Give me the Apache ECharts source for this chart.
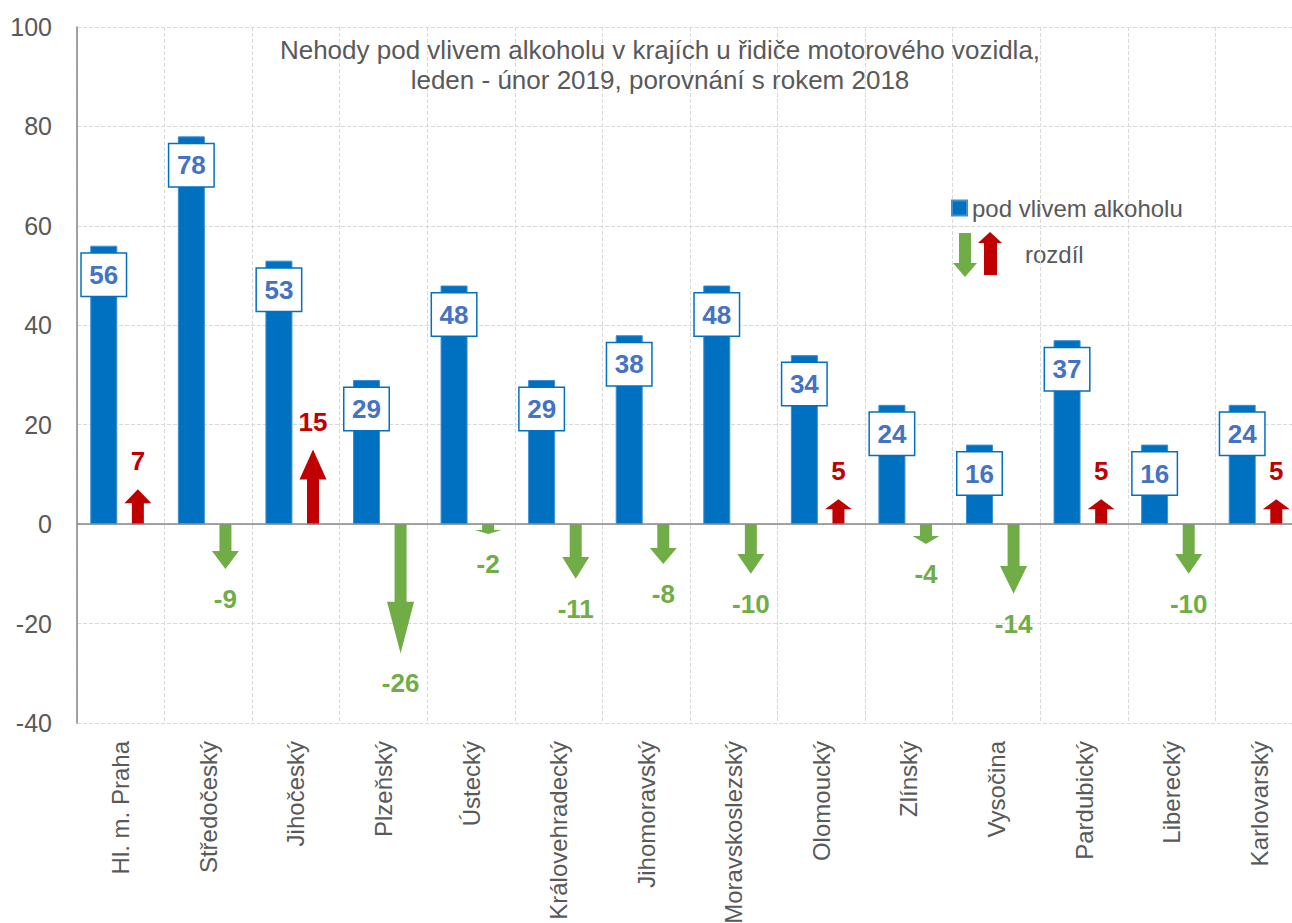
<!DOCTYPE html>
<html>
<head>
<meta charset="utf-8">
<script src="https://cdn.jsdelivr.net/npm/echarts@6/dist/echarts.min.js"></script>
<style>
  html, body { margin: 0; padding: 0; background: #fff; }
  #chart { width: 1292px; height: 923px; }
</style>
</head>
<body>
<div id="chart"></div>
<script>
// kraje
const regions = ['Hl. m. Praha', 'Středočeský', 'Jihočeský', 'Plzeňský', 'Ústecký',
  'Královehradecký', 'Jihomoravský', 'Moravskoslezský', 'Olomoucký', 'Zlínský',
  'Vysočina', 'Pardubický', 'Liberecký', 'Karlovarský']
// nehody pod vlivem alkoholu, leden - únor 2019
const alcohol = [56, 78, 53, 29, 48, 29, 38, 48, 34, 24, 16, 37, 16, 24]
// rozdíl proti roku 2018
const diff = [7, -9, 15, -26, -2, -11, -8, -10, 5, -4, -14, 5, -10, 5]
const yTicks = { min: -40, max: 100, step: 20 }

const FONT = '"Liberation Sans Narrow", "Arial Narrow", "Liberation Sans", Arial, sans-serif'
const GREY = '#595959'
const BLUE = '#0070C0'
const RED = '#C00000'
const GREEN = '#70AD47'

const chart = echarts.init(document.getElementById('chart'), null, { renderer: 'svg' })

const arrowItem = (params, api) => {
  const idx = api.value(0)
  const v = api.value(1)
  const base = api.coord([idx, 0])
  const tip = api.coord([idx, v])
  const band = api.size([1, 0])[0]
  const cx = base[0] + band * 0.195
  const y0 = base[1]
  const y1 = tip[1]
  const neck = y1 + (y0 - y1) * 0.4
  const color = v > 0 ? RED : GREEN
  return {
    type: 'group',
    children: [
      {
        type: 'polygon',
        shape: {
          points: [
            [cx - 6, y0], [cx + 6, y0], [cx + 6, neck], [cx + 13.5, neck],
            [cx, y1], [cx - 13.5, neck], [cx - 6, neck]
          ]
        },
        style: { fill: color }
      },
      {
        type: 'text',
        style: {
          text: String(v),
          x: cx,
          y: v > 0 ? y1 - 28 : y1 + 30,
          align: 'center',
          verticalAlign: 'middle',
          fill: color,
          font: 'bold 26px ' + FONT
        }
      }
    ]
  }
}

const option = {
  backgroundColor: '#fff',
  textStyle: { fontFamily: FONT },
  title: {
    text: 'Nehody pod vlivem alkoholu v krajích u řidiče motorového vozidla,\nleden - únor 2019, porovnání s rokem 2018',
    left: 655,
    top: 30,
    textAlign: 'center',
    textStyle: {
      fontFamily: FONT,
      fontSize: 26,
      fontWeight: 'normal',
      color: GREY,
      lineHeight: 30
    }
  },
  legend: {
    data: ['pod vlivem alkoholu'],
    left: 946,
    top: 191,
    icon: 'rect',
    itemWidth: 15,
    itemHeight: 15,
    itemGap: 6,
    textStyle: { fontFamily: FONT, fontSize: 24, color: GREY }
  },
  graphic: [
    {
      type: 'polygon',
      shape: { points: [[959, 233], [971, 233], [971, 263], [977, 263], [965, 277], [953, 263], [959, 263]] },
      style: { fill: GREEN }
    },
    {
      type: 'polygon',
      shape: { points: [[984, 275], [997, 275], [997, 243], [1002, 243], [990, 232], [978, 243], [984, 243]] },
      style: { fill: RED }
    },
    {
      type: 'text',
      left: 1025,
      top: 242,
      style: { text: 'rozdíl', fill: GREY, font: '24px ' + FONT }
    }
  ],
  grid: {
    left: 77,
    right: -11,
    top: 27,
    bottom: 200,
    outerBoundsMode: 'none'
  },
  xAxis: {
    type: 'category',
    data: regions,
    axisLine: { show: false, onZero: false },
    axisTick: { show: false },
    splitLine: { show: true, lineStyle: { color: '#D9D9D9', type: 'dashed' } },
    axisLabel: {
      interval: 0,
      rotate: 90,
      margin: 18,
      fontFamily: FONT,
      fontSize: 24,
      color: GREY
    }
  },
  yAxis: {
    type: 'value',
    min: yTicks.min,
    max: yTicks.max,
    interval: yTicks.step,
    axisLine: { show: true, lineStyle: { color: '#868686', width: 1.5 } },
    axisTick: { show: false },
    splitLine: { lineStyle: { color: '#D9D9D9', type: 'dashed' } },
    axisLabel: { margin: 25, fontFamily: FONT, fontSize: 25, color: GREY }
  },
  series: [
    {
      name: 'pod vlivem alkoholu',
      type: 'bar',
      data: alcohol,
      barWidth: 27,
      barGap: '26%',
      itemStyle: { color: BLUE, borderColor: '#3d8fd6', borderWidth: 1 },
      label: {
        show: true,
        position: 'insideTop',
        distance: 8,
        formatter: '{c}',
        fontFamily: FONT,
        fontSize: 26,
        fontWeight: 'bold',
        color: '#4472C4',
        backgroundColor: '#fff',
        borderColor: BLUE,
        borderWidth: 1.5,
        padding: [5, 6],
        width: 32,
        lineHeight: 32,
        align: 'center'
      },
      markLine: {
        silent: true,
        symbol: 'none',
        label: { show: false },
        lineStyle: { color: '#868686', type: 'solid', width: 1.5 },
        data: [{ yAxis: 0 }]
      },
      z: 2
    },
    {
      // jen kvůli rozložení sloupců
      name: '_',
      type: 'bar',
      data: diff,
      barWidth: 27,
      silent: true,
      itemStyle: { color: 'rgba(0,0,0,0)' }
    },
    {
      name: 'rozdíl',
      type: 'custom',
      data: diff.map((d, i) => [i, d]),
      encode: { x: 0, y: 1 },
      renderItem: arrowItem,
      z: 3
    }
  ]
}

chart.setOption(option)
</script>
</body>
</html>
